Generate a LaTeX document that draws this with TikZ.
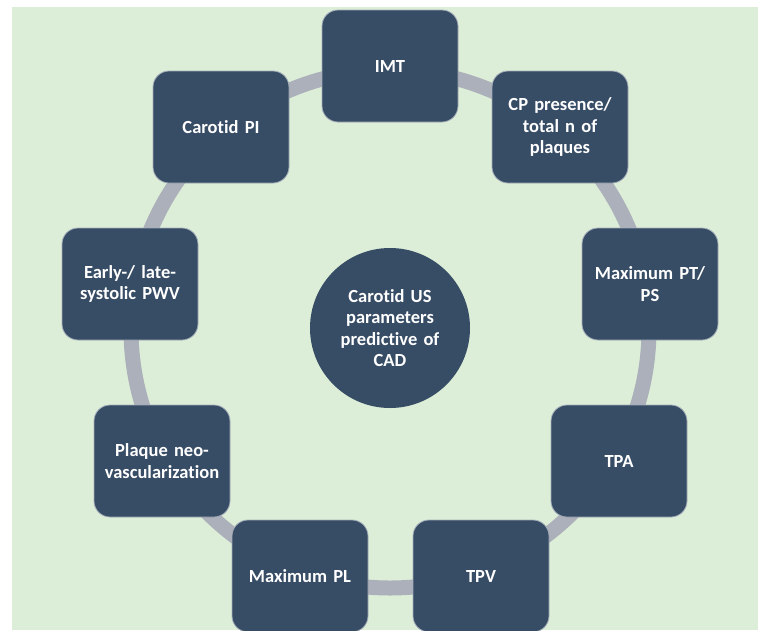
\documentclass[tikz,border=0pt]{standalone}
\usepackage{fontspec}
\setmainfont{Carlito}[Ligatures=CommonOff]
\definecolor{bgcol}{RGB}{221,238,216}
\definecolor{boxcol}{RGB}{55,76,101}
\definecolor{ringcol}{RGB}{172,176,186}
\tikzset{
  param/.style={rectangle, rounded corners=16pt, fill=boxcol, draw=white!55!boxcol, line width=0.8pt,
    minimum width=136pt, minimum height=112pt, text width=132pt, align=center, text=white,
    font=\bfseries\fontsize{18.5}{21.5}\selectfont, inner sep=0pt},
  hub/.style={circle, fill=boxcol, minimum size=160pt, inner sep=0pt, text width=130pt, align=center,
    text=white, font=\bfseries\fontsize{18.5}{21.5}\selectfont},
  ringline/.style={draw=ringcol, line width=15pt}
}
\begin{document}
\begin{tikzpicture}[x=1pt,y=-1pt]
\useasboundingbox (0,0) rectangle (758,630);
\clip (0,0) rectangle (758,630);
\fill[white] (0,0) rectangle (758,630);
\fill[bgcol] (12,7) rectangle (758,630);
\coordinate (c) at (390,329);
\draw[ringline] (c) circle[radius=259];
\node[hub] (hub) at (390,328) {Carotid US\\parameters\\predictive of\\CAD};
\node[param] (imt) at (390,66) {IMT};
\node[param] (cp) at (560,127) {CP presence/\\total n of\\plaques};
\node[param] (mpt) at (650,284) {Maximum PT/\\PS};
\node[param] (tpa) at (619,461) {TPA};
\node[param] (tpv) at (481,576) {TPV};
\node[param] (mpl) at (300,576) {Maximum PL};
\node[param] (neo) at (162,461) {Plaque neo-\\vascularization};
\node[param] (pwv) at (130,284) {Early-/ late-\\systolic PWV};
\node[param] (pi) at (221,127) {Carotid PI};
\end{tikzpicture}
\end{document}
